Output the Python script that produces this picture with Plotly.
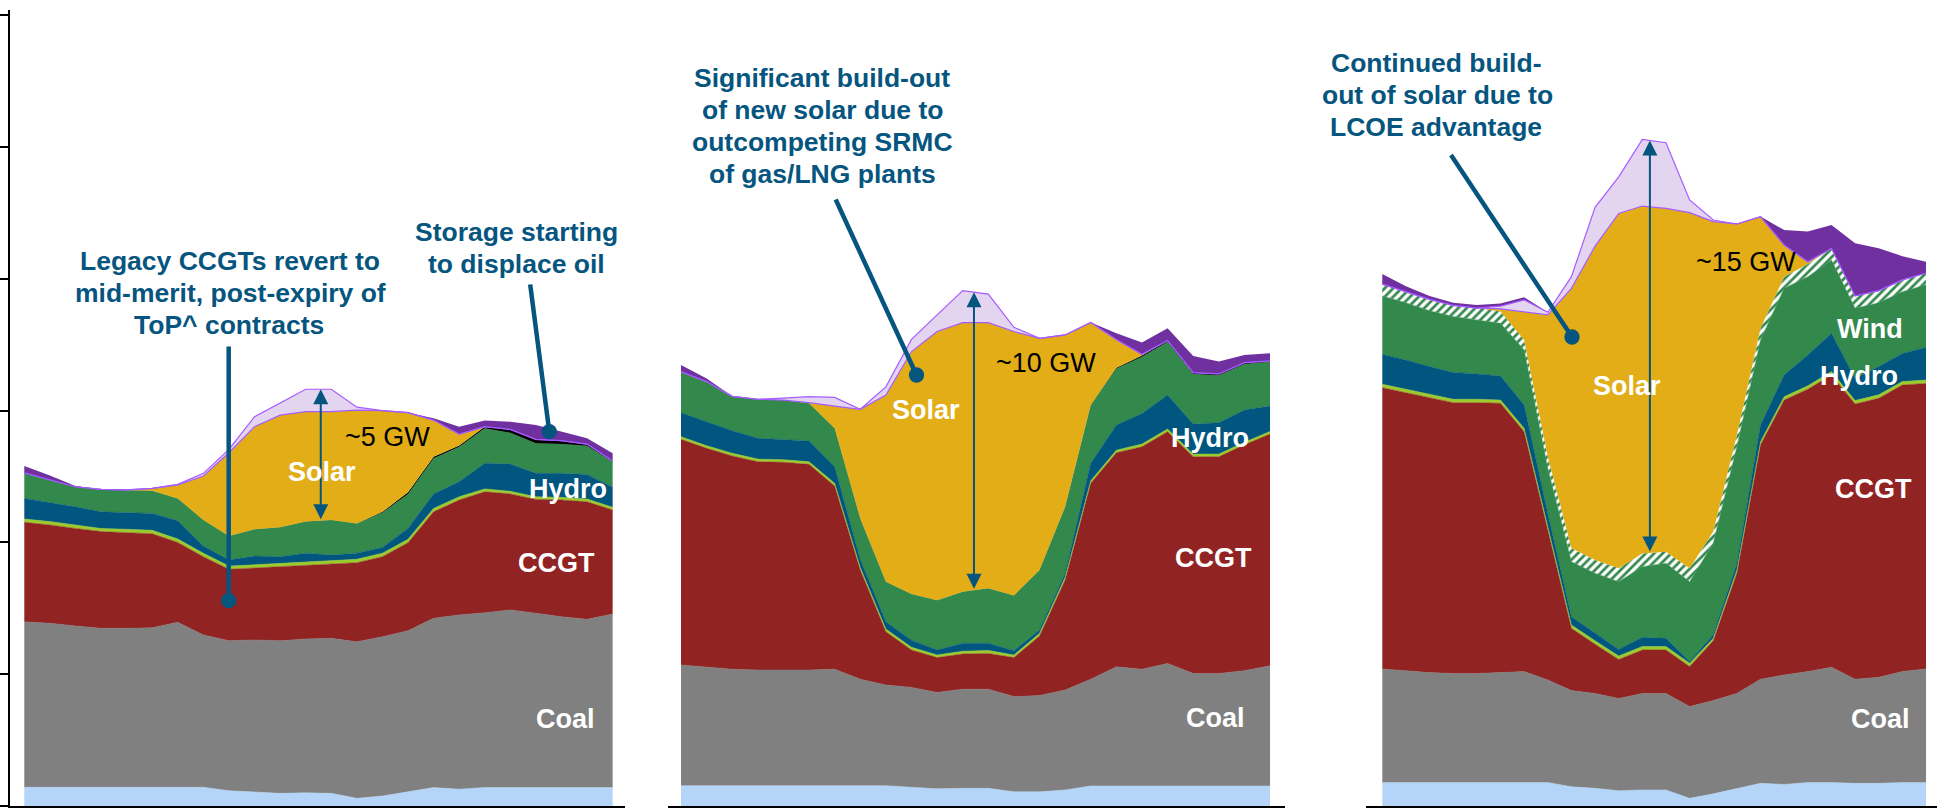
import numpy as np
import plotly.graph_objects as go

W, H = 1945, 808
hours = list(range(24))

# ---------------- data (GW, stacked bottom -> top) ----------------
# Panel 1
p1_base = [0.71, 0.71, 0.71, 0.71, 0.71, 0.71, 0.71, 0.71, 0.58, 0.52, 0.48, 0.50, 0.48, 0.29, 0.38, 0.54, 0.70, 0.64, 0.70, 0.70, 0.70, 0.70, 0.70, 0.70]
p1_coal = [6.28, 6.22, 6.12, 6.03, 6.03, 6.05, 6.26, 5.78, 5.69, 5.78, 5.79, 5.84, 5.88, 5.94, 6.04, 6.11, 6.42, 6.61, 6.63, 6.74, 6.61, 6.48, 6.38, 6.58]
p1_ccgt = [3.77, 3.73, 3.70, 3.67, 3.63, 3.57, 3.03, 2.97, 2.71, 2.73, 2.80, 2.78, 2.82, 3.00, 3.04, 3.34, 4.04, 4.36, 4.59, 4.40, 4.32, 4.43, 4.46, 3.95]
p1_other = [0.13, 0.13, 0.13, 0.12, 0.13, 0.13, 0.13, 0.13, 0.12, 0.12, 0.12, 0.12, 0.13, 0.13, 0.13, 0.13, 0.13, 0.12, 0.11, 0.10, 0.10, 0.10, 0.11, 0.10]
p1_hydro = [0.78, 0.73, 0.69, 0.63, 0.63, 0.64, 0.69, 0.27, 0.23, 0.33, 0.27, 0.35, 0.21, 0.23, 0.22, 0.41, 0.55, 0.57, 0.97, 1.03, 0.89, 0.91, 0.93, 0.76]
p1_wind = [0.97, 0.85, 0.76, 0.85, 0.86, 0.86, 0.85, 0.99, 0.91, 1.02, 1.11, 1.20, 1.33, 1.13, 1.32, 1.31, 1.35, 1.33, 1.33, 1.19, 1.14, 1.11, 1.09, 0.97]
p1_newwind = [0, 0, 0, 0, 0, 0, 0, 0, 0, 0, 0, 0, 0, 0, 0, 0, 0, 0, 0, 0, 0, 0, 0, 0]
p1_storage = [0, 0, 0, 0, 0, 0, 0, 0, 0, 0, 0, 0, 0, 0, 0.03, 0.06, 0.06, 0.05, 0.06, 0.13, 0.15, 0.13, 0.06, 0.03]
p1_solar = [0, 0, 0, 0, 0, 0.09, 0.51, 1.67, 3.16, 3.89, 4.26, 4.17, 4.11, 4.30, 3.84, 3.02, 1.39, 0.43, 0, 0, 0, 0, 0, 0]
p1_curtailed = [0, 0, 0, 0, 0, 0, 0.02, 0.10, 0.13, 0.38, 0.45, 0.85, 0.85, 0.11, 0, 0, 0, 0, 0, 0, 0, 0, 0, 0]
p1_oil = [0.26, 0.17, 0.03, 0, 0, 0, 0, 0, 0, 0, 0, 0, 0, 0, 0, 0, 0.07, 0.28, 0.23, 0.29, 0.54, 0.34, 0.22, 0.29]

# Panel 2
p2_base = [0.77, 0.77, 0.77, 0.77, 0.77, 0.77, 0.77, 0.77, 0.77, 0.71, 0.65, 0.67, 0.67, 0.54, 0.54, 0.61, 0.76, 0.76, 0.76, 0.76, 0.76, 0.76, 0.76, 0.76]
p2_coal = [4.58, 4.51, 4.42, 4.39, 4.39, 4.39, 4.42, 4.04, 3.82, 3.79, 3.66, 3.76, 3.76, 3.61, 3.65, 3.79, 4.05, 4.52, 4.43, 4.65, 4.27, 4.27, 4.37, 4.56]
p2_ccgt = [8.56, 8.29, 8.09, 7.90, 7.88, 7.80, 6.95, 4.14, 2.02, 1.42, 1.32, 1.34, 1.36, 1.48, 2.26, 4.17, 7.43, 8.12, 8.44, 8.79, 8.22, 8.22, 8.57, 8.79]
p2_other = [0.10, 0.10, 0.10, 0.10, 0.10, 0.10, 0.10, 0.10, 0.10, 0.10, 0.10, 0.10, 0.11, 0.10, 0.10, 0.11, 0.10, 0.10, 0.10, 0.10, 0.10, 0.10, 0.10, 0.10]
p2_hydro = [0.91, 0.91, 0.86, 0.79, 0.77, 0.79, 0.63, 0.30, 0.28, 0.27, 0.19, 0.30, 0.27, 0.16, 0.13, 0.15, 0.66, 0.95, 1.16, 1.29, 1.14, 1.19, 1.22, 0.96]
p2_wind = [1.56, 1.52, 1.30, 1.48, 1.49, 1.43, 1.46, 1.56, 1.52, 1.75, 1.89, 1.96, 2.09, 2.10, 2.27, 2.52, 2.21, 2.15, 2.15, 2.02, 1.90, 1.80, 1.75, 1.68]
p2_newwind = [0, 0, 0, 0, 0, 0, 0, 0, 0, 0, 0, 0, 0, 0, 0, 0, 0, 0, 0, 0, 0, 0, 0, 0]
p2_storage = [0, 0, 0, 0, 0, 0, 0, 0, 0, 0, 0, 0, 0, 0, 0, 0, 0, 0.03, 0.05, 0.05, 0.05, 0.05, 0.05, 0.04]
p2_solar = [0, 0, 0, 0, 0, 0.02, 0.84, 4.14, 7.08, 9.20, 10.19, 10.21, 10.08, 10.01, 8.79, 6.52, 3.13, 1.07, 0.05, 0, 0, 0, 0, 0]
p2_curtailed = [0, 0, 0, 0, 0.07, 0.23, 0.33, 0, 0.31, 0.46, 0.63, 1.21, 1.08, 0.16, 0, 0, 0, 0, 0, 0, 0, 0, 0, 0]
p2_oil = [0.25, 0.12, 0, 0, 0, 0, 0, 0, 0, 0, 0, 0, 0, 0, 0, 0, 0, 0.23, 0.44, 0.46, 0.63, 0.47, 0.29, 0.29]

# Panel 3
p3_base = [0.89, 0.89, 0.89, 0.89, 0.89, 0.89, 0.89, 0.89, 0.73, 0.67, 0.58, 0.61, 0.61, 0.29, 0.46, 0.67, 0.86, 0.82, 0.89, 0.89, 0.86, 0.86, 0.89, 0.89]
p3_coal = [4.31, 4.24, 4.17, 4.14, 4.14, 4.17, 4.21, 3.89, 3.65, 3.60, 3.50, 3.66, 3.66, 3.48, 3.54, 3.60, 3.95, 4.15, 4.21, 4.37, 3.95, 4.02, 4.21, 4.31]
p3_ccgt = [10.67, 10.55, 10.44, 10.27, 10.27, 10.22, 9.10, 5.69, 2.36, 1.87, 1.48, 1.65, 1.65, 1.52, 2.27, 4.56, 8.89, 10.43, 10.71, 11.09, 10.44, 10.59, 10.87, 10.83]
p3_other = [0.13, 0.13, 0.12, 0.13, 0.13, 0.12, 0.13, 0.13, 0.13, 0.13, 0.13, 0.13, 0.13, 0.13, 0.09, 0.12, 0.12, 0.13, 0.13, 0.13, 0.13, 0.13, 0.13, 0.13]
p3_hydro = [1.13, 1.11, 1.05, 1.02, 0.96, 0.91, 0.88, 0.50, 0.31, 0.28, 0.25, 0.35, 0.31, 0.06, 0.14, 0.26, 0.63, 0.82, 1.17, 1.45, 0.84, 1.07, 1.07, 1.23]
p3_wind = [2.22, 2.17, 2.12, 2.12, 2.05, 2.00, 2.09, 1.71, 2.09, 2.28, 2.57, 2.68, 2.85, 3.03, 3.47, 4.42, 3.23, 3.29, 2.97, 2.78, 2.66, 2.42, 2.34, 2.38]
p3_newwind = [0.45, 0.42, 0.43, 0.42, 0.45, 0.45, 0.38, 0.45, 0.51, 0.50, 0.51, 0.50, 0.44, 0.51, 0.44, 0.45, 0.44, 0.44, 0.48, 0.45, 0.47, 0.46, 0.45, 0.45]
p3_storage = [0, 0, 0, 0, 0, 0, 0, 0, 0, 0, 0, 0, 0, 0, 0, 0, 0, 0, 0, 0, 0, 0, 0, 0]
p3_solar = [0, 0, 0, 0, 0, 0.10, 1.07, 5.37, 9.86, 11.91, 13.46, 13.18, 13.02, 13.49, 11.76, 8.00, 4.24, 1.20, 0.09, 0, 0, 0, 0, 0]
p3_curtailed = [0, 0, 0, 0, 0, 0.10, 0.45, 0.10, 0.44, 1.47, 1.39, 2.53, 2.49, 0.48, 0.06, 0, 0, 0, 0, 0, 0, 0, 0, 0]
p3_oil = [0.38, 0.21, 0.13, 0.10, 0.12, 0.10, 0.10, 0, 0, 0, 0, 0, 0, 0, 0, 0, 0, 0.57, 1.14, 0.88, 2.00, 1.61, 0.90, 0.43]

layer_names = ["Base", "Coal", "CCGT", "Other", "Hydro", "Wind", "New wind",
               "Storage", "Solar", "Curtailed solar", "Oil"]

# ---------------- styles ----------------
VIOLET = "#A55CFF"
PTR = "#06557F"
FONT = "Liberation Sans, Arial, sans-serif"
styles = [
    dict(fill="#B4D5F7", lc="#B4D5F7", lw=0.5),
    dict(fill="#808080", lc="#808080", lw=0.5),
    dict(fill="#922323", lc="#922323", lw=0.5),
    dict(fill="#9BCB2D", lc="#9BCB2D", lw=0.5),
    dict(fill="#00567F", lc="#00567F", lw=0.5),
    dict(fill="#33884C", lc="#33884C", lw=0.5),
    dict(fill="#FFFFFF", lc="#FFFFFF", lw=0, pattern=True),
    dict(fill="#000000", lc="#000000", lw=0),
    dict(fill="#E2AD17", lc=VIOLET, lw=1.2),
    dict(fill="#E3D4EF", lc=VIOLET, lw=1.2),
    dict(fill="#7030A0", lc="#7030A0", lw=0),
]

PX_PER_GW = 26.36
Y0 = 806  # pixel row of 0 GW
panels = [
    dict(layers=[p1_base, p1_coal, p1_ccgt, p1_other, p1_hydro, p1_wind, p1_newwind,
                 p1_storage, p1_solar, p1_curtailed, p1_oil],
         dom=(10, 625), x0=24.3, dx=25.58, arrow_h=11.59),
    dict(layers=[p2_base, p2_coal, p2_ccgt, p2_other, p2_hydro, p2_wind, p2_newwind,
                 p2_storage, p2_solar, p2_curtailed, p2_oil],
         dom=(668, 1285), x0=681.0, dx=25.61, arrow_h=11.44),
    dict(layers=[p3_base, p3_coal, p3_ccgt, p3_other, p3_hydro, p3_wind, p3_newwind,
                 p3_storage, p3_solar, p3_curtailed, p3_oil],
         dom=(1366, 1937), x0=1382.3, dx=23.64, arrow_h=11.32),
]

fig = go.Figure()
ymax = (Y0 - 10) / PX_PER_GW
ydom = [(H - Y0) / H, (H - 10) / H]
layout = dict(width=W, height=H, margin=dict(l=0, r=0, t=0, b=0),
              paper_bgcolor="white", plot_bgcolor="rgba(0,0,0,0)", showlegend=False)
annotations = []

for i, p in enumerate(panels):
    xn = "x" if i == 0 else f"x{i+1}"
    yn = "y" if i == 0 else f"y{i+1}"
    for name, vals, st in zip(layer_names, p["layers"], styles):
        kw = dict(x=hours, y=vals, name=name, stackgroup=f"g{i}", mode="lines",
                  line=dict(width=st["lw"], color=st["lc"], shape="linear"),
                  fillcolor=st["fill"], xaxis=xn, yaxis=yn, hoverinfo="skip")
        if st.get("pattern"):
            kw["fillpattern"] = dict(shape="/", fgcolor="#33884C", bgcolor="white",
                                     size=6, solidity=0.45, fillmode="replace")
        fig.add_trace(go.Scatter(**kw))

    d0, d1 = p["dom"]
    xr = [(d0 - p["x0"]) / p["dx"], (d1 - p["x0"]) / p["dx"]]
    layout["xaxis" if i == 0 else f"xaxis{i+1}"] = dict(
        domain=[d0 / W, d1 / W], range=xr, anchor=yn, showline=True, linecolor="black",
        linewidth=2, showgrid=False, zeroline=False, showticklabels=False, ticks="",
        fixedrange=True)
    layout["yaxis" if i == 0 else f"yaxis{i+1}"] = dict(
        domain=ydom, range=[0, ymax], anchor=xn, showgrid=False, zeroline=False,
        showticklabels=False, showline=(i == 0), linecolor="black", linewidth=1.6,
        ticks="outside" if i == 0 else "", ticklen=8, tickwidth=1.6, tickcolor="black",
        tick0=0, dtick=5, fixedrange=True)

    # double-headed "~N GW" arrow from wind(+new wind) top to curtailed-solar top
    cum = np.cumsum(np.array(p["layers"], dtype=float), axis=0)
    ah = p["arrow_h"]
    top = float(np.interp(ah, hours, cum[9]))
    bot = float(np.interp(ah, hours, cum[6]))
    annotations.append(dict(x=ah, y=top, ax=ah, ay=bot, xref=xn, yref=yn, axref=xn, ayref=yn,
                            text="", showarrow=True, arrowside="end+start", arrowhead=2,
                            startarrowhead=2, arrowsize=1.5, startarrowsize=1.5, arrowwidth=2,
                            arrowcolor=PTR, standoff=0, startstandoff=0))


def px2data(i, px, py):
    p = panels[i]
    return (px - p["x0"]) / p["dx"], (Y0 - py) / PX_PER_GW


def pointer(i, tail, head):
    xn = "x" if i == 0 else f"x{i+1}"
    yn = "y" if i == 0 else f"y{i+1}"
    tx_, ty_ = px2data(i, *tail)
    hx, hy = px2data(i, *head)
    annotations.append(dict(x=hx, y=hy, ax=tx_, ay=ty_, xref=xn, yref=yn, axref=xn, ayref=yn,
                            text="", showarrow=True, arrowhead=6, arrowsize=0.85,
                            arrowwidth=4.5, arrowcolor=PTR, standoff=0, startstandoff=0))


pointer(0, (228.7, 345), (228.7, 600.7))
pointer(0, (530, 283), (549.3, 431.7))
pointer(1, (835, 198), (916.5, 375))
pointer(2, (1450, 153.5), (1572, 337))


def label(txt, px, py, color="white", size=27, bold=True):
    t = f"<b>{txt}</b>" if bold else txt
    annotations.append(dict(x=px / W, y=1 - py / H, xref="paper", yref="paper", text=t,
                            showarrow=False, xanchor="center", yanchor="middle",
                            font=dict(family=FONT, size=size, color=color)))


# panel 1 texts
label("Legacy CCGTs revert to", 230, 261, PTR, 26.5)
label("mid-merit, post-expiry of", 230, 293, PTR, 26.5)
label("ToP^ contracts", 229, 325, PTR, 26.5)
label("Storage starting", 516, 232, PTR, 26.5)
label("to displace oil", 516, 264, PTR, 26.5)
label("~5 GW", 387, 437, "black", 27, bold=False)
label("Solar", 322, 472)
label("Hydro", 568, 489)
label("CCGT", 556, 563)
label("Coal", 565, 719)
# panel 2 texts
label("Significant build-out", 822, 78, PTR, 26.5)
label("of new solar due to", 822, 110, PTR, 26.5)
label("outcompeting SRMC", 822, 142, PTR, 26.5)
label("of gas/LNG plants", 822, 174, PTR, 26.5)
label("Solar", 926, 410)
label("~10 GW", 1046, 363, "black", 27, bold=False)
label("Hydro", 1210, 438)
label("CCGT", 1213, 558)
label("Coal", 1215, 718)
# panel 3 texts
label("Continued build-", 1436, 63, PTR, 26.5)
label("out of solar due to", 1437, 95, PTR, 26.5)
label("LCOE advantage", 1436, 127, PTR, 26.5)
label("Solar", 1627, 386)
label("~15 GW", 1746, 262, "black", 27, bold=False)
label("Wind", 1870, 329)
label("Hydro", 1859, 376)
label("CCGT", 1873, 489)
label("Coal", 1880, 719)

layout["annotations"] = annotations
fig.update_layout(**layout)
fig.write_html("out.html", config={"displayModeBar": False})
